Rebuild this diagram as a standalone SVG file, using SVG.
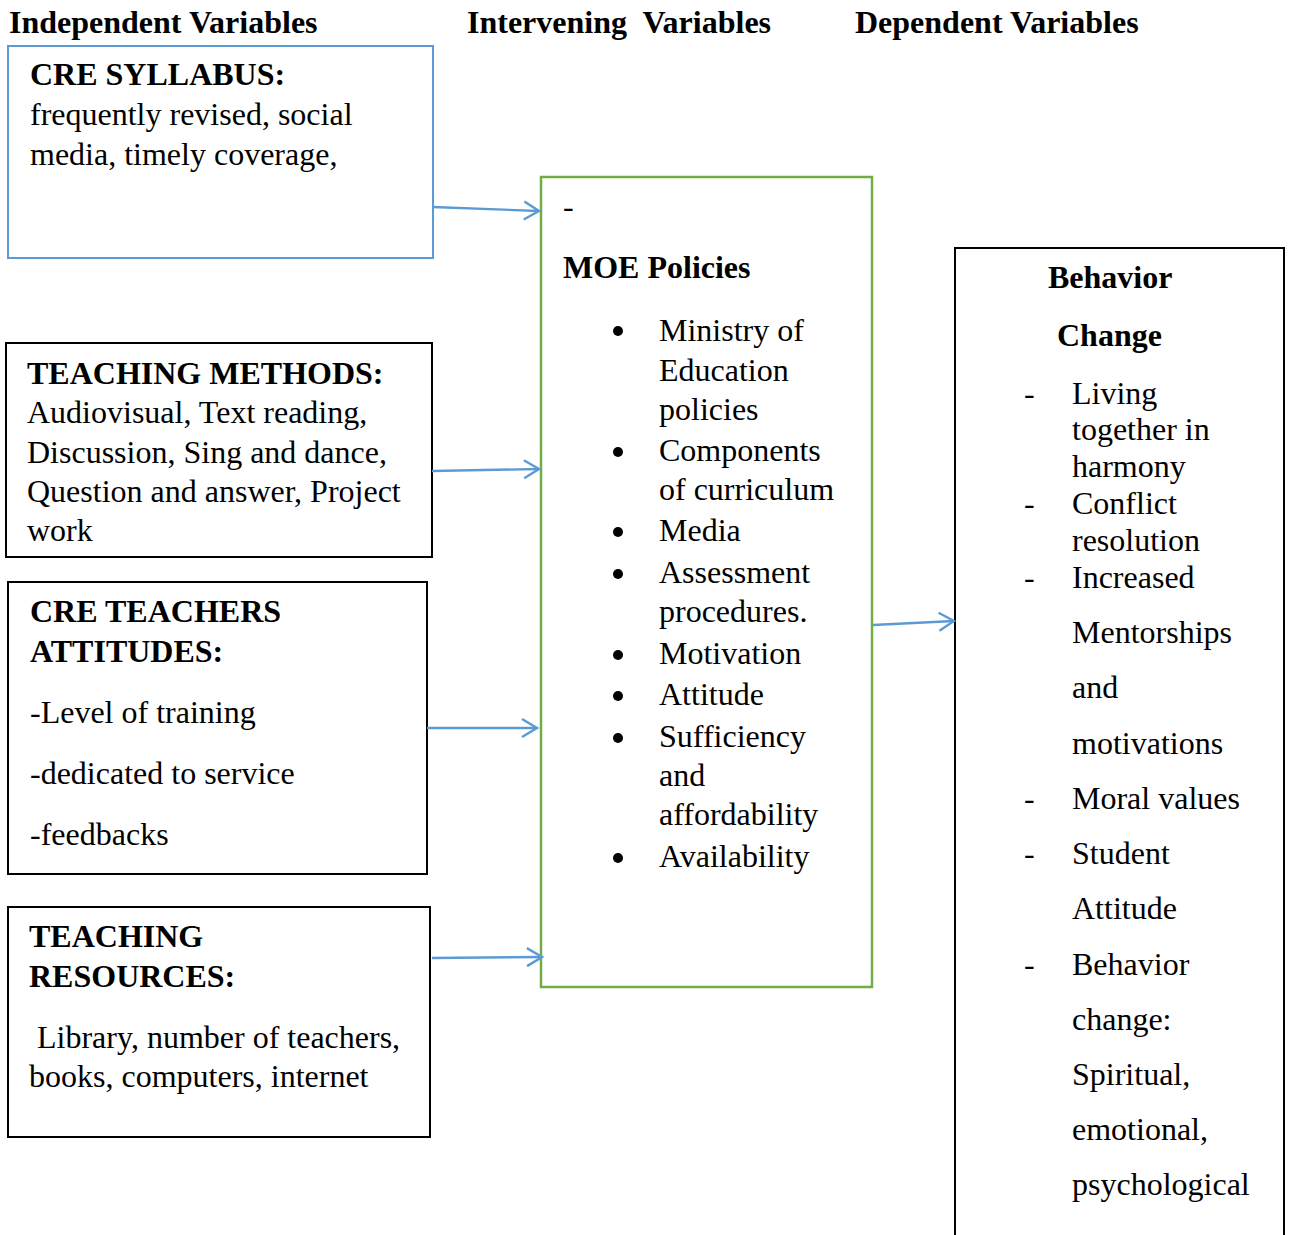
<svg xmlns="http://www.w3.org/2000/svg" width="1290" height="1235" viewBox="0 0 1290 1235">
  <defs>
    <marker id="arrow" viewBox="0 0 22 22" refX="20" refY="11" markerWidth="22" markerHeight="22" markerUnits="userSpaceOnUse" orient="auto">
      <path d="M5,2 L20,11 L5,20" fill="none" stroke="#5b9bd5" stroke-width="2.4"/>
    </marker>
    <style>
      text { font-family: "Liberation Serif", "Times New Roman", serif; font-size: 32px; fill: #000; }
      .b { font-weight: bold; }
      .box { fill: #fff; stroke: #000; stroke-width: 2; }
      .blue { stroke: #5b9bd5; }
      .green { stroke: #70ad47; stroke-width: 2.5; }
      .conn { stroke: #5b9bd5; stroke-width: 2.4; fill: none; marker-end: url(#arrow); }
    </style>
  </defs>
  <rect width="1290" height="1235" fill="#fff"/>

  <!-- column headings -->
  <g id="headings">
    <text class="b" x="9" y="33">Independent Variables</text>
    <text class="b" x="467" y="33" xml:space="preserve">Intervening  Variables</text>
    <text class="b" x="855" y="33">Dependent Variables</text>
  </g>

  <g id="cre-syllabus">
    <rect class="box blue" x="8" y="46" width="425" height="212"/>
    <text class="b" x="30" y="85">CRE SYLLABUS:</text>
    <text x="30" y="125">frequently revised, social</text>
    <text x="30" y="165">media, timely coverage,</text>
  </g>

  <g id="teaching-methods">
    <rect class="box" x="6" y="343" width="426" height="214"/>
    <text class="b" x="27" y="384">TEACHING METHODS:</text>
    <text x="27" y="423">Audiovisual, Text reading,</text>
    <text x="27" y="463">Discussion, Sing and dance,</text>
    <text x="27" y="502">Question and answer, Project</text>
    <text x="27" y="541">work</text>
  </g>

  <g id="teachers-attitudes">
    <rect class="box" x="8" y="582" width="419" height="292"/>
    <text class="b" x="30" y="622">CRE TEACHERS</text>
    <text class="b" x="30" y="662">ATTITUDES:</text>
    <text x="30" y="723">-Level of training</text>
    <text x="30" y="784">-dedicated to service</text>
    <text x="30" y="845">-feedbacks</text>
  </g>

  <g id="teaching-resources">
    <rect class="box" x="8" y="907" width="422" height="230"/>
    <text class="b" x="29" y="947">TEACHING</text>
    <text class="b" x="29" y="987">RESOURCES:</text>
    <text x="37" y="1048">Library, number of teachers,</text>
    <text x="29" y="1087">books, computers, internet</text>
  </g>

  <g id="moe-policies">
    <rect class="box green" x="541" y="177" width="331" height="810"/>
    <text x="563" y="217">-</text>
    <text class="b" x="563" y="278">MOE Policies</text>
    <g fill="#000">
      <circle cx="618" cy="331" r="5"/>
      <circle cx="618" cy="452" r="5"/>
      <circle cx="618" cy="532" r="5"/>
      <circle cx="618" cy="574" r="5"/>
      <circle cx="618" cy="655" r="5"/>
      <circle cx="618" cy="696" r="5"/>
      <circle cx="618" cy="738" r="5"/>
      <circle cx="618" cy="858" r="5"/>
    </g>
    <text x="659" y="341">Ministry of</text>
    <text x="659" y="381">Education</text>
    <text x="659" y="420">policies</text>
    <text x="659" y="461">Components</text>
    <text x="659" y="500">of curriculum</text>
    <text x="659" y="541">Media</text>
    <text x="659" y="583">Assessment</text>
    <text x="659" y="622">procedures.</text>
    <text x="659" y="664">Motivation</text>
    <text x="659" y="705">Attitude</text>
    <text x="659" y="747">Sufficiency</text>
    <text x="659" y="786">and</text>
    <text x="659" y="825">affordability</text>
    <text x="659" y="867">Availability</text>
  </g>

  <g id="behavior-change">
    <rect class="box" x="955" y="248" width="329" height="1000"/>
    <text class="b" x="1048" y="288">Behavior</text>
    <text class="b" x="1057" y="346">Change</text>
    <text x="1024" y="404">-</text>
    <text x="1072" y="404">Living</text>
    <text x="1072" y="440">together in</text>
    <text x="1072" y="477">harmony</text>
    <text x="1024" y="514">-</text>
    <text x="1072" y="514">Conflict</text>
    <text x="1072" y="551">resolution</text>
    <text x="1024" y="588">-</text>
    <text x="1072" y="588">Increased</text>
    <text x="1072" y="643">Mentorships</text>
    <text x="1072" y="698">and</text>
    <text x="1072" y="754">motivations</text>
    <text x="1024" y="809">-</text>
    <text x="1072" y="809">Moral values</text>
    <text x="1024" y="864">-</text>
    <text x="1072" y="864">Student</text>
    <text x="1072" y="919">Attitude</text>
    <text x="1024" y="975">-</text>
    <text x="1072" y="975">Behavior</text>
    <text x="1072" y="1030">change:</text>
    <text x="1072" y="1085">Spiritual,</text>
    <text x="1072" y="1140">emotional,</text>
    <text x="1072" y="1195">psychological</text>
  </g>

  <g id="connectors">
    <path class="conn" d="M433,207 L539,211"/>
    <path class="conn" d="M432,471 L539,469"/>
    <path class="conn" d="M427,728 L537,728"/>
    <path class="conn" d="M432,958 L542,957"/>
    <path class="conn" d="M873,625 L954,621"/>
  </g>
</svg>
